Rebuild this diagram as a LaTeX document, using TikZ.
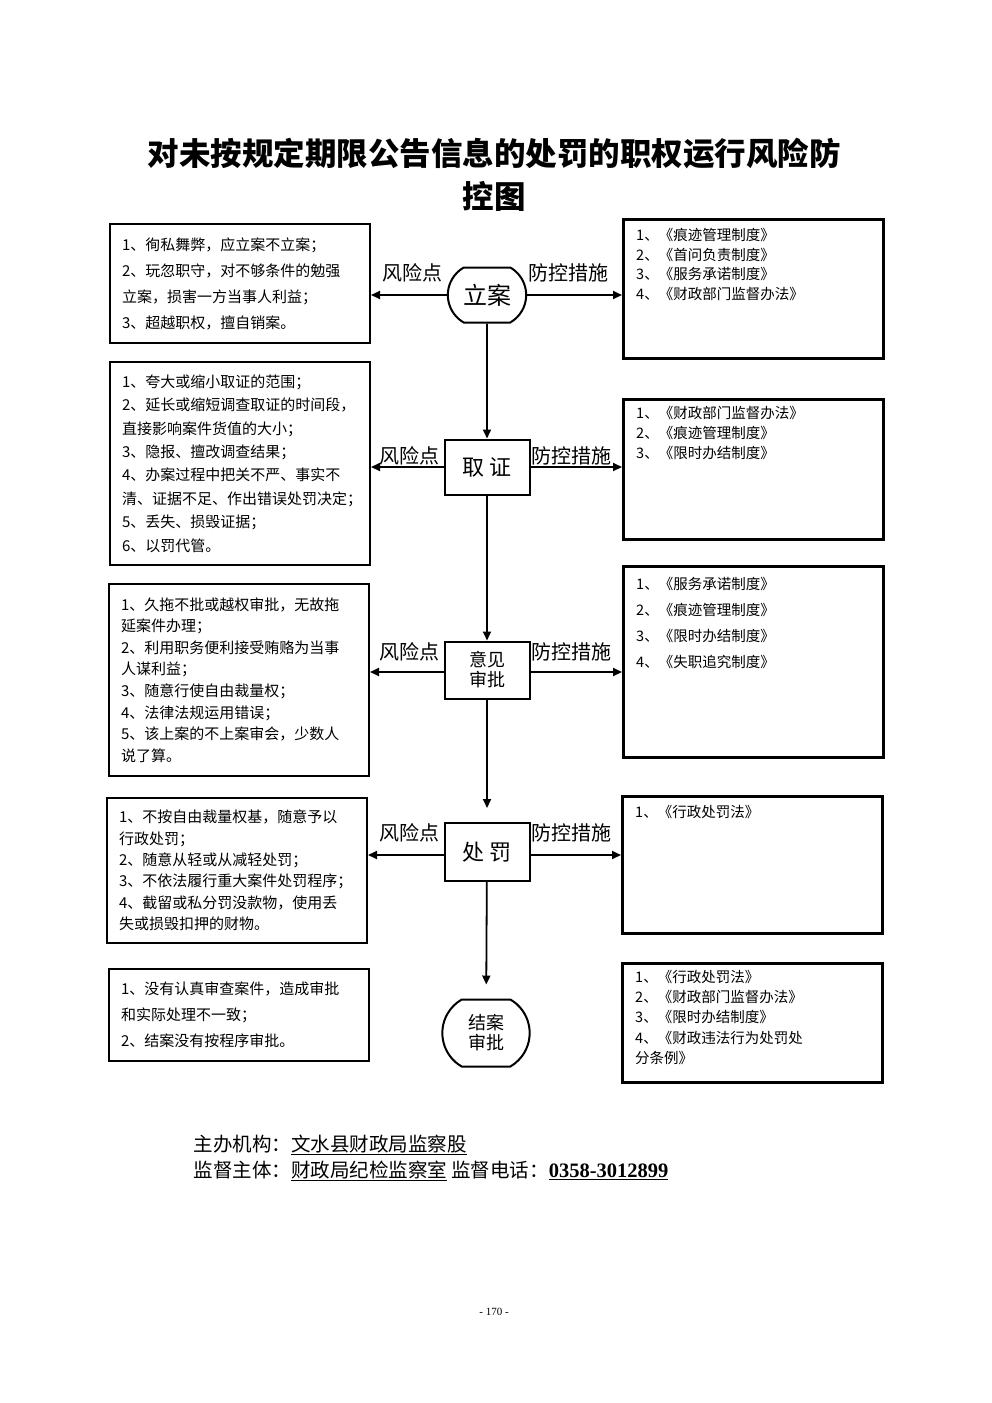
\documentclass[tikz,border=0pt]{standalone}
\usepackage{fontspec}
\setmainfont{Liberation Serif}
\newfontfamily\cjk{Noto Sans CJK SC}
\usetikzlibrary{positioning, shapes.misc, arrows.meta}

\begin{document}
\begin{tikzpicture}[
    x=1pt, y=-1pt,
    every node/.style = {font=\cjk},
    riskbox/.style = {draw, line width=2pt, anchor=north west, inner xsep=12pt, inner ysep=0pt,
        text width=236pt, minimum width=260pt, align=left, font={\cjk\fontsize{15pt}{#1}\selectfont}},
    ctrlbox/.style = {draw, line width=2.6pt, anchor=north west, minimum width=260pt},
    ctrltext/.style = {inner sep=0pt, align=left, font={\cjk\fontsize{14.5pt}{#1}\selectfont}},
    stage/.style = {draw, line width=2pt, minimum width=85pt, minimum height=55pt, align=center},
    endcap/.style = {stage, rounded rectangle, rounded rectangle arc length=120},
    tag/.style = {inner sep=0pt, font={\cjk\fontsize{20pt}{20pt}\selectfont}},
    flow/.style = {draw, line width=1.8pt, -{Triangle[length=9pt, width=8pt]}}
]
    \useasboundingbox (0,0) rectangle (992,1403);

    \node (title) [font={\cjk\bfseries\fontsize{31.5pt}{43pt}\selectfont}, align=center] at (494,175)
        {对未按规定期限公告信息的处罚的职权运行风险防\\控图};

    % stages
    \node (lian) [endcap, font={\cjk\fontsize{24pt}{24pt}\selectfont}] at (487,295) {立案};
    \node (quzheng) [stage, font={\cjk\fontsize{22pt}{22pt}\selectfont}] at (487,467) {取 证};
    \node (yijian) [stage, minimum height=57pt, font={\cjk\fontsize{18pt}{20pt}\selectfont}] at (487,670) {意见\\审批};
    \node (chufa) [stage, minimum height=58pt, font={\cjk\fontsize{22pt}{22pt}\selectfont}] at (487,852) {处 罚};
    \node (jiean) [endcap, minimum width=94pt, minimum height=67pt, font={\cjk\fontsize{18pt}{20pt}\selectfont}] at (486,1033) {结案\\审批};

    % risk points
    \node (risk1) [riskbox=26pt, minimum height=119pt] at (109,223)
        {1、徇私舞弊，应立案不立案；\\2、玩忽职守，对不够条件的勉强\\立案，损害一方当事人利益；\\3、超越职权，擅自销案。};
    \node (risk2) [riskbox=23.4pt, minimum height=203pt] at (109,361)
        {1、夸大或缩小取证的范围；\\2、延长或缩短调查取证的时间段，\\直接影响案件货值的大小；\\3、隐报、擅改调查结果；\\4、办案过程中把关不严、事实不\\清、证据不足、作出错误处罚决定；\\5、丢失、损毁证据；\\6、以罚代管。};
    \node (risk3) [riskbox=21.6pt, minimum height=192pt] at (108,583)
        {1、久拖不批或越权审批，无故拖\\延案件办理；\\2、利用职务便利接受贿赂为当事\\人谋利益；\\3、随意行使自由裁量权；\\4、法律法规运用错误；\\5、该上案的不上案审会，少数人\\说了算。};
    \node (risk4) [riskbox=21.4pt, minimum height=145pt] at (106,797)
        {1、不按自由裁量权基，随意予以\\行政处罚；\\2、随意从轻或从减轻处罚；\\3、不依法履行重大案件处罚程序；\\4、截留或私分罚没款物，使用丢\\失或损毁扣押的财物。};
    \node (risk5) [riskbox=26pt, minimum height=92pt] at (108,968)
        {1、没有认真审查案件，造成审批\\和实际处理不一致；\\2、结案没有按程序审批。};

    % control measures
    \node (ctrl1) [ctrlbox, minimum height=139pt] at (622,218) {};
    \node (ctrltext1) [ctrltext=19.7pt, below right=10pt and 14pt of ctrl1.north west]
        {1、《痕迹管理制度》\\2、《首问负责制度》\\3、《服务承诺制度》\\4、《财政部门监督办法》};
    \node (ctrl2) [ctrlbox, minimum height=140pt] at (622,398) {};
    \node (ctrltext2) [ctrltext=20pt, below right=8pt and 14pt of ctrl2.north west]
        {1、《财政部门监督办法》\\2、《痕迹管理制度》\\3、《限时办结制度》};
    \node (ctrl3) [ctrlbox, minimum height=191pt] at (622,565) {};
    \node (ctrltext3) [ctrltext=26pt, below right=12pt and 14pt of ctrl3.north west]
        {1、《服务承诺制度》\\2、《痕迹管理制度》\\3、《限时办结制度》\\4、《失职追究制度》};
    \node (ctrl4) [ctrlbox, minimum height=137pt] at (621,795) {};
    \node (ctrltext4) [ctrltext=20pt, below right=10pt and 14pt of ctrl4.north west]
        {1、《行政处罚法》};
    \node (ctrl5) [ctrlbox, minimum height=119pt] at (621,962) {};
    \node (ctrltext5) [ctrltext=20.2pt, below right=8pt and 14pt of ctrl5.north west]
        {1、《行政处罚法》\\2、《财政部门监督办法》\\3、《限时办结制度》\\4、《财政违法行为处罚处\\分条例》};

    % labels
    \node (risktag1) [tag, above left=13pt and 4pt of lian.west] {风险点};
    \node (ctrltag1) [tag, above right=13pt and 1pt of lian.east] {防控措施};
    \node (risktag2) [tag, above left=2pt and 4pt of quzheng.west] {风险点};
    \node (ctrltag2) [tag, above right=2pt and 1pt of quzheng.east] {防控措施};
    \node (risktag3) [tag, above left=9pt and 4pt of yijian.west] {风险点};
    \node (ctrltag3) [tag, above right=9pt and 1pt of yijian.east] {防控措施};
    \node (risktag4) [tag, above left=10pt and 4pt of chufa.west] {风险点};
    \node (ctrltag4) [tag, above right=10pt and 1pt of chufa.east] {防控措施};

    \coordinate (yijianL) at ([yshift=-2pt]yijian.west);
    \coordinate (yijianR) at ([yshift=-2pt]yijian.east);
    \coordinate (chufaL) at ([yshift=-3pt]chufa.west);
    \coordinate (chufaR) at ([yshift=-3pt]chufa.east);

    \draw[flow] (lian.west) -- (risk1.east |- lian.west);
    \draw[flow] (lian.east) -- (ctrl1.west |- lian.east);
    \draw[flow] (quzheng.west) -- (risk2.east |- quzheng.west);
    \draw[flow] (quzheng.east) -- (ctrl2.west |- quzheng.east);
    \draw[flow] (yijianL) -- (risk3.east |- yijianL);
    \draw[flow] (yijianR) -- (ctrl3.west |- yijianR);
    \draw[flow] (chufaL) -- (risk4.east |- chufaL);
    \draw[flow] (chufaR) -- (ctrl4.west |- chufaR);

    \draw[flow] (lian) -- (quzheng);
    \draw[flow] (quzheng) -- (yijian);
    \draw[flow, shorten >=14pt] (yijian) -- (chufa);
    \draw[flow, shorten >=14pt] (chufa) -- (jiean);

    % footer
    \node (footer) [anchor=west, align=left, font={\cjk\fontsize{19.5pt}{26pt}\selectfont}] at (190,1158)
        {主办机构：\underline{文水县财政局监察股}\\监督主体：\underline{财政局纪检监察室}\ 监督电话：\underline{\rmfamily\bfseries\fontsize{20.5pt}{26pt}\selectfont 0358-3012899}};
    \node (pageno) [font={\rmfamily\fontsize{11pt}{11pt}\selectfont}] at (494,1312) {- 170 -};
\end{tikzpicture}
\end{document}
